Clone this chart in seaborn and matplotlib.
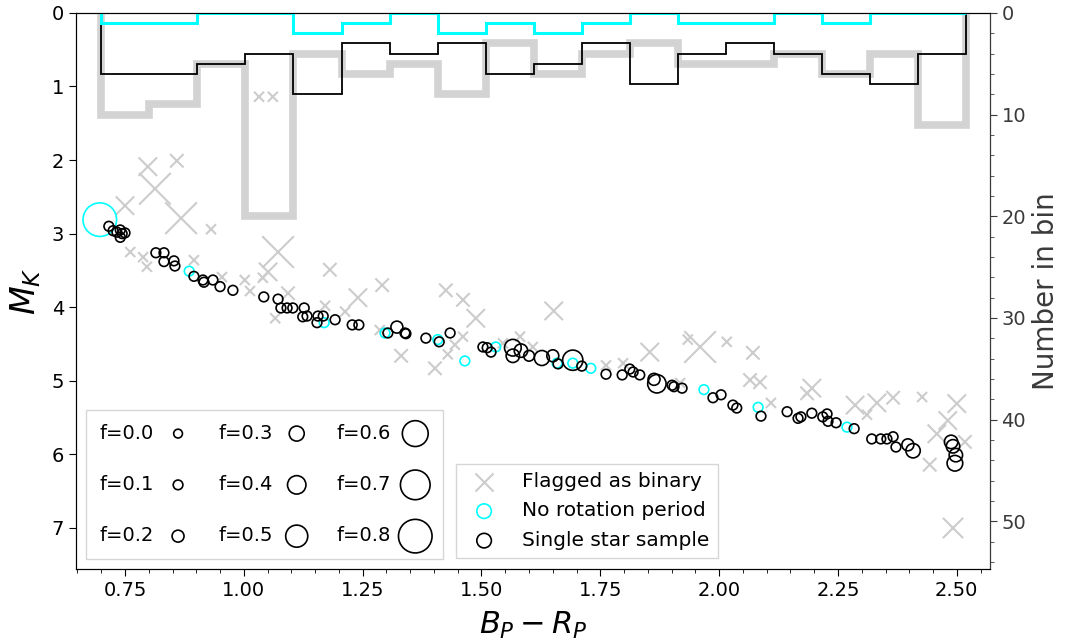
import numpy as np
import pandas as pd
import matplotlib
matplotlib.use("Agg")
import matplotlib.pyplot as plt
import seaborn as sns
from matplotlib.ticker import MultipleLocator

# estrelas simples (cor, magnitude absoluta, fracao f)
single_bp = [0.716, 0.725, 0.733, 0.740, 0.744, 0.750, 0.740,
             0.815, 0.832, 0.832, 0.853, 0.855, 0.895, 0.914, 0.916, 0.935, 0.950, 0.977,
             1.042, 1.072, 1.078, 1.091, 1.103, 1.127, 1.124, 1.133, 1.156, 1.167, 1.154, 1.192, 1.228, 1.242,
             1.303, 1.322, 1.339, 1.341, 1.383, 1.411, 1.434,
             1.503, 1.512, 1.520, 1.566, 1.566, 1.583, 1.600, 1.627, 1.650, 1.661, 1.692, 1.711,
             1.762, 1.796, 1.812, 1.819, 1.833, 1.863, 1.869, 1.901, 1.905, 1.922, 1.987, 2.004, 2.029, 2.037,
             2.088, 2.143, 2.166, 2.172, 2.195, 2.218, 2.227, 2.229, 2.246, 2.284, 2.321, 2.340, 2.353, 2.366,
             2.372, 2.397, 2.408, 2.488, 2.492, 2.498, 2.496]
single_mk = [2.90, 2.96, 2.98, 2.95, 3.00, 2.99, 3.05,
             3.26, 3.26, 3.38, 3.37, 3.44, 3.58, 3.63, 3.66, 3.63, 3.72, 3.77,
             3.86, 3.89, 4.01, 4.01, 4.01, 4.01, 4.13, 4.12, 4.12, 4.12, 4.21, 4.17, 4.24, 4.24,
             4.35, 4.27, 4.35, 4.36, 4.42, 4.47, 4.35,
             4.54, 4.55, 4.61, 4.55, 4.66, 4.59, 4.66, 4.69, 4.66, 4.77, 4.72, 4.80,
             4.91, 4.92, 4.84, 4.88, 4.92, 4.98, 5.04, 5.06, 5.08, 5.10, 5.23, 5.19, 5.33, 5.37,
             5.48, 5.42, 5.51, 5.49, 5.44, 5.49, 5.45, 5.55, 5.57, 5.65, 5.79, 5.79, 5.79, 5.76,
             5.90, 5.87, 5.95, 5.83, 5.89, 6.01, 6.12]
single_f = [0.1] * 7 + [0.1] * 11 + [0.1] * 14 + \
           [0.1, 0.2, 0.1, 0.1, 0.1, 0.1, 0.1] + \
           [0.1, 0.1, 0.1, 0.35, 0.25, 0.25, 0.15, 0.3, 0.2, 0.1, 0.45, 0.1] + \
           [0.1, 0.1, 0.1, 0.1, 0.1, 0.2, 0.4, 0.1, 0.1, 0.1, 0.1, 0.1, 0.1, 0.1] + \
           [0.1] * 15 + [0.2, 0.28, 0.25, 0.25, 0.25, 0.32]

# sem periodo de rotacao
norot_bp = [0.697, 0.885, 1.169, 1.297, 1.408, 1.465, 1.530, 1.659, 1.692, 1.730, 1.968, 2.082, 2.269]
norot_mk = [2.81, 3.51, 4.21, 4.35, 4.44, 4.73, 4.54, 4.76, 4.76, 4.83, 5.12, 5.36, 5.63]
norot_f = [0.8] + [0.1] * 12

# marcadas como binarias
binary_bp = [1.032, 1.061, 0.798, 0.859, 0.813, 0.750, 0.868, 0.931, 0.761, 0.788, 0.796, 0.895,
             0.954, 1.002, 1.013, 1.040, 1.072, 1.051, 1.066, 1.093, 1.181, 1.171, 1.213, 1.240,
             1.291, 1.286, 1.331, 1.425, 1.461, 1.488, 1.402, 1.429, 1.444, 1.461, 1.545, 1.652,
             1.608, 1.762, 1.854, 1.934, 1.960, 2.016, 1.918, 2.071, 2.065, 2.086, 2.195, 2.185,
             2.286, 2.311, 2.332, 2.366, 2.427, 2.500, 2.481, 2.458, 2.517, 2.443, 2.492, 2.109,
             1.581, 1.798]
binary_mk = [1.14, 1.14, 2.09, 2.01, 2.39, 2.62, 2.79, 2.94, 3.25, 3.32, 3.45, 3.36,
             3.59, 3.63, 3.78, 3.60, 3.25, 3.52, 4.15, 3.81, 3.49, 3.98, 4.06, 3.87,
             3.70, 4.31, 4.66, 3.77, 3.90, 4.15, 4.83, 4.64, 4.51, 4.40, 4.49, 4.05,
             4.54, 4.79, 4.61, 4.44, 4.54, 4.47, 5.03, 4.62, 4.99, 5.02, 5.10, 5.17,
             5.33, 5.46, 5.30, 5.23, 5.22, 5.31, 5.54, 5.72, 5.83, 6.14, 7.00, 5.30,
             4.40, 4.76]
binary_f = [0.12, 0.12, 0.4, 0.25, 0.75, 0.4, 0.75, 0.12, 0.12, 0.12, 0.12, 0.12,
            0.12, 0.12, 0.12, 0.12, 0.75, 0.4, 0.12, 0.25, 0.25, 0.12, 0.12, 0.4,
            0.25, 0.12, 0.25, 0.25, 0.25, 0.4, 0.25, 0.12, 0.12, 0.12, 0.12, 0.4,
            0.12, 0.12, 0.4, 0.12, 0.75, 0.12, 0.12, 0.25, 0.25, 0.25, 0.4, 0.25,
            0.4, 0.12, 0.4, 0.25, 0.12, 0.4, 0.4, 0.4, 0.25, 0.25, 0.45, 0.12,
            0.12, 0.12]

# histogramas (contagem por bin)
bin_edges = np.linspace(0.70, 2.52, 19)
counts_binary = [10, 9, 5, 20, 4, 6, 5, 8, 3, 6, 4, 3, 5, 5, 4, 6, 4, 11]
counts_single = [6, 6, 5, 4, 8, 3, 4, 3, 6, 5, 3, 7, 4, 3, 4, 6, 7, 4]
counts_norot = [1, 1, 0, 0, 2, 1, 0, 2, 1, 2, 1, 0, 1, 1, 0, 1, 0, 0]

legend_f = [0.0, 0.1, 0.2, 0.3, 0.4, 0.5, 0.6, 0.7, 0.8]


def tamanho(f):
    return 40 + 850 * np.asarray(f) ** 2


df_bin = pd.DataFrame({"bp": binary_bp, "mk": binary_mk, "s": tamanho(binary_f)})
df_norot = pd.DataFrame({"bp": norot_bp, "mk": norot_mk, "s": tamanho(norot_f)})
df_single = pd.DataFrame({"bp": single_bp, "mk": single_mk, "s": tamanho(single_f)})

plt.rcParams["font.family"] = ["DejaVu Sans"]
fig, ax = plt.subplots(figsize=(10.71, 6.44), dpi=100)
fig.subplots_adjust(left=0.071, right=0.924, top=0.98, bottom=0.1165)

sns.scatterplot(data=df_bin, x="bp", y="mk", s=df_bin["s"], marker="x",
                color="0.8", linewidth=1.5, ax=ax, legend=False)
sns.scatterplot(data=df_norot, x="bp", y="mk", s=df_norot["s"], marker="o",
                color="none", edgecolor="cyan", linewidth=1.2, ax=ax, legend=False)
sns.scatterplot(data=df_single, x="bp", y="mk", s=df_single["s"], marker="o",
                color="none", edgecolor="black", linewidth=1.2, ax=ax, legend=False)

ax.set_xlim(0.647, 2.569)
ax.set_ylim(7.557, 0)
ax.xaxis.set_major_locator(MultipleLocator(0.25))
ax.xaxis.set_minor_locator(MultipleLocator(0.05))
ax.yaxis.set_major_locator(MultipleLocator(1))
ax.xaxis.set_major_formatter(matplotlib.ticker.FormatStrFormatter("%.2f"))
ax.tick_params(axis="both", which="major", labelsize=14, length=5)
ax.tick_params(axis="both", which="minor", length=3)
ax.set_xlabel("$B_P - R_P$", fontsize=22, labelpad=7)
ax.set_ylabel("$M_K$", fontsize=24, labelpad=6)

# eixo da direita com os histogramas
ax2 = ax.twinx()
ax2.stairs(counts_binary, bin_edges, color="lightgray", lw=5.5)
ax2.stairs(counts_single, bin_edges, color="black", lw=1.3)
ax2.stairs(counts_norot, bin_edges, color="cyan", lw=2.2)
ax2.set_ylim(54.7, 0)
ax2.yaxis.set_major_locator(MultipleLocator(10))
ax2.yaxis.set_minor_locator(MultipleLocator(2))
cinza = "#3a3a3a"
ax2.tick_params(axis="y", which="major", labelsize=14, length=5, colors=cinza)
ax2.tick_params(axis="y", which="minor", length=3, colors=cinza)
ax2.spines["right"].set_color(cinza)
ax2.set_ylabel("Number in bin", fontsize=20, color=cinza, labelpad=4)

# legenda dos tamanhos
handles = [ax2.scatter([], [], s=tamanho(f), facecolor="none", edgecolor="black",
                       linewidth=1.2, label=f"f={f:.1f}") for f in legend_f]
leg1 = ax2.legend(handles=handles, ncol=3, loc="lower left", markerfirst=False,
                  fontsize=14, labelspacing=1.66, handlelength=1.4,
                  columnspacing=1.37, handletextpad=0.53, borderpad=0.72,
                  fancybox=False, edgecolor="0.8", borderaxespad=0.5, scatterpoints=1)
ax2.add_artist(leg1)

h_bin = ax2.scatter([], [], marker="x", s=170, color="0.8", linewidth=1.5, label="Flagged as binary")
h_norot = ax2.scatter([], [], marker="o", s=110, facecolor="none", edgecolor="cyan",
                      linewidth=1.2, label="No rotation period")
h_single = ax2.scatter([], [], marker="o", s=110, facecolor="none", edgecolor="black",
                       linewidth=1.2, label="Single star sample")
ax2.legend(handles=[h_bin, h_norot, h_single], loc="lower left",
           bbox_to_anchor=(0.4158, 0.0198), borderaxespad=0, fontsize=14.5,
           labelspacing=0.52, handletextpad=0.9, fancybox=False, edgecolor="0.8",
           scatterpoints=1)

fig.savefig("out.png", dpi=100)
